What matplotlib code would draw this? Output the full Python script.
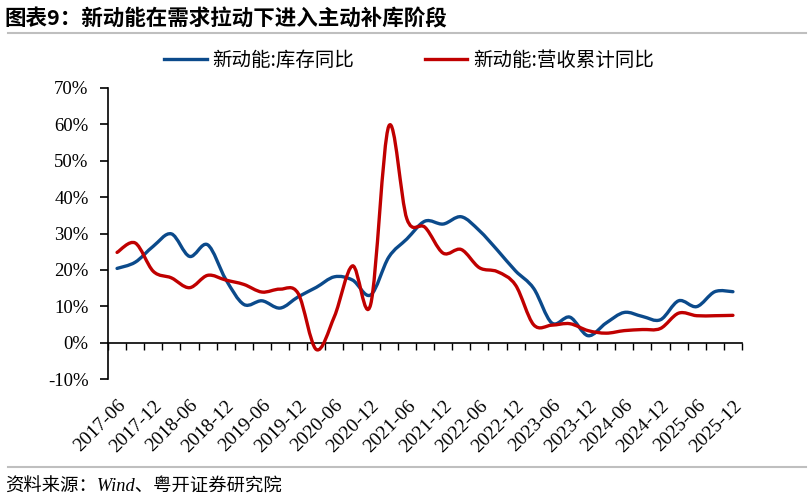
import matplotlib
matplotlib.use("Agg")
import matplotlib.pyplot as plt
import numpy as np
from matplotlib.path import Path
from matplotlib.patches import PathPatch
from matplotlib.lines import Line2D

plt.rcParams["font.family"] = ["Noto Sans CJK SC", "DejaVu Sans"]

# quarterly data, 2017-06 .. 2025-12
quarters = [f"{y}-{m}" for y in range(2017, 2026) for m in ("03", "06", "09", "12")][1:]
tick_labels = [q for q in quarters if q.endswith("06") or q.endswith("12")]

inventory_yoy = [20.4, 22.1, 26.5, 29.9, 23.7, 26.9, 17.4, 10.5, 11.5,
                 9.5, 12.6, 15.2, 18.1, 17.2, 13.1, 23.5, 28.5, 33.4,
                 32.6, 34.6, 30.8, 25.4, 19.7, 14.9, 5.4, 7.0, 1.9,
                 5.4, 8.3, 7.2, 6.3, 11.5, 9.9, 14.0, 14.0]
revenue_yoy = [24.8, 27.4, 19.6, 17.8, 15.1, 18.5, 17.2, 16.0, 13.9,
               14.7, 13.5, -1.9, 7.2, 21.1, 10.5, 59.5, 34.0, 31.7,
               24.6, 25.6, 20.6, 19.5, 15.8, 4.9, 4.8, 5.2, 3.3,
               2.6, 3.3, 3.6, 3.9, 8.1, 7.4, 7.4, 7.5]

BLUE = "#0B4A8B"
RED = "#C00000"


def smooth_path(xs, ys):
    # Catmull-Rom style bezier through the points (like Excel's smoothed line)
    pts = np.column_stack([xs, ys]).astype(float)
    n = len(pts)
    verts = [pts[0]]
    codes = [Path.MOVETO]
    for i in range(n - 1):
        p0 = pts[i - 1] if i > 0 else pts[i]
        p1, p2 = pts[i], pts[i + 1]
        p3 = pts[i + 2] if i + 2 < n else pts[i + 1]
        c1 = p1 + (p2 - p0) / 6
        c2 = p2 - (p3 - p1) / 6
        verts += [c1, c2, p2]
        codes += [Path.CURVE4] * 3
    return Path(verts, codes)


fig = plt.figure(figsize=(8.1, 5.0), dpi=100)
ax = fig.add_axes([108 / 810, 121 / 500, 634 / 810, 291 / 500])

x = np.arange(len(quarters))
for series, color in [(inventory_yoy, BLUE), (revenue_yoy, RED)]:
    ax.add_patch(PathPatch(smooth_path(x, series), fill=False, edgecolor=color,
                           lw=2.4, capstyle="round", joinstyle="round", zorder=3))

ax.set_xlim(-0.5, len(quarters) - 0.5)
ax.set_ylim(-10, 70)
ax.set_yticks(range(-10, 71, 10))
ax.set_yticklabels([f"{v}%" for v in range(-10, 71, 10)],
                   family="Liberation Serif", fontsize=13.5)
ax.tick_params(axis="y", direction="out", length=6, width=1.2, pad=8)

for s in ("top", "right"):
    ax.spines[s].set_visible(False)
ax.spines["left"].set_linewidth(1.2)
ax.spines["bottom"].set_position(("data", 0))
ax.spines["bottom"].set_linewidth(1.2)
ax.set_xticks(np.arange(-0.5, len(quarters), 1.0))
ax.tick_params(axis="x", direction="out", length=5, width=1.0, labelbottom=False)

# category labels under the plot area
sec = ax.secondary_xaxis("bottom")
sec.spines["bottom"].set_visible(False)
sec.set_xticks([quarters.index(t) for t in tick_labels])
sec.set_xticklabels(tick_labels, rotation=45, ha="right", va="top",
                    rotation_mode="anchor", family="Liberation Serif", fontsize=14)
sec.tick_params(length=0, pad=13)

handles = [Line2D([], [], color=BLUE, lw=2.4), Line2D([], [], color=RED, lw=2.4)]
fig.legend(handles, ["新动能:库存同比", "新动能:营收累计同比"], loc="center",
           bbox_to_anchor=(0.505, 0.88), ncol=2, frameon=False, fontsize=14,
           handlelength=2.2, handletextpad=0.3, columnspacing=3.6)

fig.text(0.006, 0.962, "图表9：新动能在需求拉动下进入主动补库阶段", fontsize=15.5,
         fontweight="bold", va="center", ha="left")
fig.add_artist(Line2D([0.01, 0.995], [0.935, 0.935], color="#BFBFBF", lw=1.5))
fig.add_artist(Line2D([0.01, 0.995], [0.066, 0.066], color="#BFBFBF", lw=1.5))
fig.text(0.006, 0.026, "资料来源：Wind、粤开证券研究院", fontsize=13.2, style="italic",
         family=["Liberation Serif", "Noto Sans CJK SC"], va="center", ha="left")

fig.savefig("out.png", dpi=100)
